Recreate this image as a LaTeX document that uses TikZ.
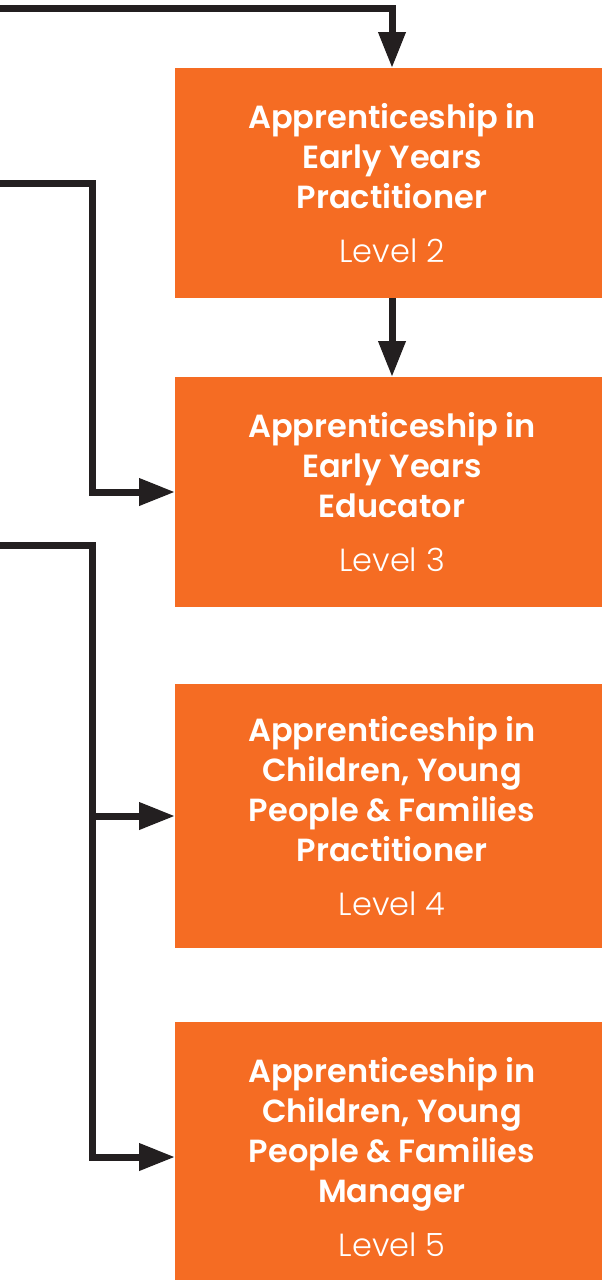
\documentclass[tikz,border=0pt]{standalone}
\usepackage{fontspec}
\setmainfont{Poppins}
\newfontfamily\lightfont{Poppins Light}
\newfontfamily\semifont{Poppins SemiBold}
\usetikzlibrary{arrows.meta}
\definecolor{apporange}{HTML}{F56C23}
\definecolor{linedark}{HTML}{231F20}
\tikzset{
  levelbox/.style={fill=apporange, text=white, align=center, outer sep=0pt,
    minimum width=434pt, anchor=north west,
    font=\fontsize{32}{40}\selectfont},
  conn/.style={draw=linedark, line width=7pt,
    -{Triangle[length=36pt,width=26pt]}}
}
\begin{document}
\begin{tikzpicture}[x=1pt, y=-1pt]
  \useasboundingbox (0,0) rectangle (602,1280);
  \clip (0,0) rectangle (602,1280);
  % boxes
  \node[levelbox, minimum height=230pt] (ey2) at (175,68)
    {\semifont Apprenticeship in\\\semifont Early Years\\\semifont Practitioner\\[14pt]\lightfont Level 2};
  \node[levelbox, minimum height=230pt] (ey3) at (175,377)
    {\semifont Apprenticeship in\\\semifont Early Years\\\semifont Educator\\[14pt]\lightfont Level 3};
  \node[levelbox, minimum height=264pt] (cy4) at (175,684)
    {\semifont Apprenticeship in\\\semifont Children, Young\\\semifont People \& Families\\\semifont Practitioner\\[14pt]\lightfont Level 4};
  \node[levelbox, minimum height=270pt] (cy5) at (175,1022)
    {\semifont Apprenticeship in\\\semifont Children, Young\\\semifont People \& Families\\\semifont Manager\\[14pt]\lightfont Level 5};
  % incoming lines
  \coordinate (topin) at (0,8);
  \coordinate (midin) at (0,183);
  \coordinate (lowin) at (0,545);
  \coordinate (midturn) at (92,183);
  \coordinate (lowturn) at (92,545);
  \draw[conn] (topin) -| (ey2.north);
  \draw[conn] (ey2) -- (ey3);
  \draw[conn] (midin) -- (midturn) |- (ey3.west);
  \draw[conn] (lowin) -- (lowturn) |- (cy5.west);
  \draw[conn] (lowturn |- cy4.west) -- (cy4.west);
\end{tikzpicture}
\end{document}
